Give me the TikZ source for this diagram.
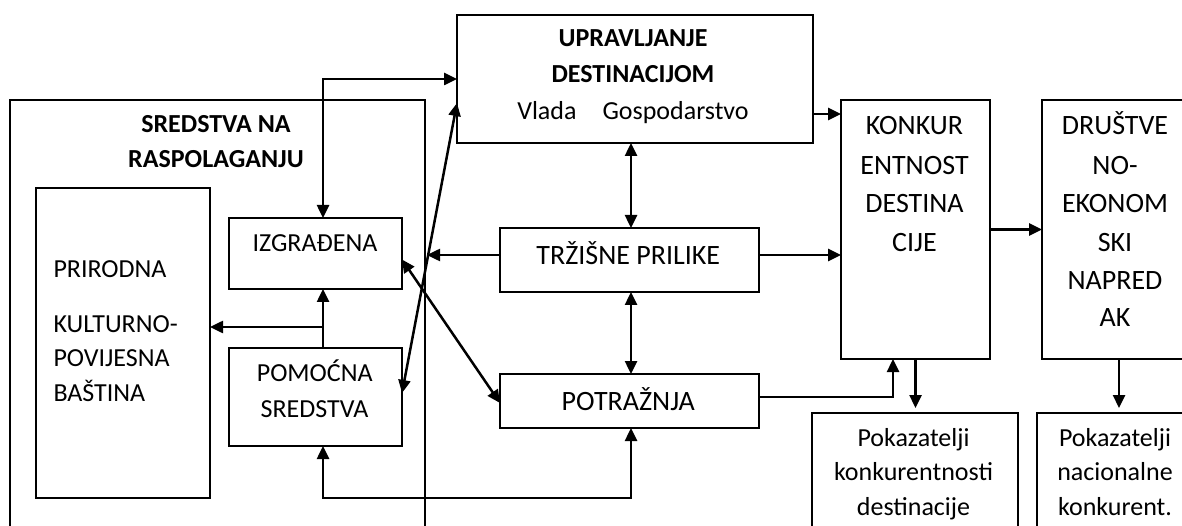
\documentclass[tikz,border=0pt]{standalone}
\usepackage{fontspec}
\setmainfont{Carlito}
\usetikzlibrary{arrows.meta,calc}
\begin{document}
\begin{tikzpicture}[x=1pt,y=-1pt,
  box/.style={draw,line width=1.5pt,inner sep=0pt,outer sep=0pt},
  conn/.style={line width=2.5pt,-{Triangle[length=13pt,width=12pt]}},
  biconn/.style={line width=2.5pt,{Triangle[length=13pt,width=12pt]}-{Triangle[length=13pt,width=12pt]}},
  txt/.style={font=\fontsize{26}{30}\selectfont,anchor=base,inner sep=0pt},
  txtl/.style={txt,anchor=base west},
  btxt/.style={font=\fontsize{26}{30}\selectfont\bfseries,anchor=base,inner sep=0pt},
  big/.style={font=\fontsize{28}{32}\selectfont,anchor=base,inner sep=0pt}]
\useasboundingbox (0,0) rectangle (1182,526);
\fill[white] (0,0) rectangle (1182,526);
\clip (0,0) rectangle (1182,526);
% boxes
\node[box,minimum width=415pt,minimum height=520pt] (sred) at (217.5,360) {};
\node[box,minimum width=174pt,minimum height=310pt] (prir) at (123,343) {};
\node[box,minimum width=173pt,minimum height=71pt] (izg) at (315.5,253.5) {};
\node[box,minimum width=173pt,minimum height=98pt] (pom) at (315.5,397) {};
\node[box,minimum width=356pt,minimum height=128pt] (upr) at (635,79) {};
\node[box,minimum width=259pt,minimum height=64pt] (trz) at (629.5,260) {};
\node[box,minimum width=259pt,minimum height=54pt] (pot) at (629.5,401) {};
\node[box,minimum width=149pt,minimum height=259pt] (kon) at (915.5,229.5) {};
\node[box,minimum width=146pt,minimum height=259pt] (dru) at (1115,229.5) {};
\node[box,minimum width=206pt,minimum height=187pt] (pk1) at (915,506.5) {};
\node[box,minimum width=156pt,minimum height=187pt] (pk2) at (1115,506.5) {};
% texts
\node[btxt] (s1) at (216,133) {SREDSTVA NA};
\node[btxt] (s2) at (216,168) {RASPOLAGANJU};
\node[txtl] (p1) at (53.3,278) {PRIRODNA};
\node[txtl] (p2) at (53.3,332.7) {KULTURNO-};
\node[txtl] (p3) at (53.3,366.7) {POVIJESNA};
\node[txtl] (p4) at (53.3,401.7) {BAŠTINA};
\node[txt] (i1) at (315,251.7) {IZGRAĐENA};
\node[txt] (m1) at (314.7,381.7) {POMOĆNA};
\node[txt] (m2) at (314.5,417) {SREDSTVA};
\node[btxt] (u1) at (633,46.7) {UPRAVLJANJE};
\node[btxt] (u2) at (633,82.3) {DESTINACIJOM};
\node[txt] (u3) at (633,119.3) {Vlada\quad Gospodarstvo};
\node[big] (t1) at (628.3,265) {TRŽIŠNE PRILIKE};
\node[big] (o1) at (628.3,410.7) {POTRAŽNJA};
\node[big] (k1) at (914.5,135) {KONKUR};
\node[big] (k2) at (914.5,174.3) {ENTNOST};
\node[big] (k3) at (914.5,212.7) {DESTINA};
\node[big] (k4) at (914.5,251.7) {CIJE};
\node[big] (d1) at (1115,135) {DRUŠTVE};
\node[big] (d2) at (1115,174.3) {NO-};
\node[big] (d3) at (1115,212.7) {EKONOM};
\node[big] (d4) at (1115,251.7) {SKI};
\node[big] (d5) at (1115,290) {NAPRED};
\node[big] (d6) at (1115,326.7) {AK};
\node[txt] (a1) at (913.5,446) {Pokazatelji};
\node[txt] (a2) at (913.5,480.5) {konkurentnosti};
\node[txt] (a3) at (913.5,515) {destinacije};
\node[txt] (b1) at (1115,446) {Pokazatelji};
\node[txt] (b2) at (1115,480.5) {nacionalne};
\node[txt] (b3) at (1115,515) {konkurent.};
% helper coordinates
\coordinate (cx) at (323,0);
\coordinate (cm) at (631,0);
\coordinate (ck) at (893,0);
\coordinate (cd) at (1119,0);
\coordinate (brn) at (0,327);
\coordinate (bot) at (0,498);
\coordinate (hit) at (427,255);
% connectors
\draw[conn] (cx |- pom.north) -- (cx |- izg.south);
\draw[conn] (cx |- brn) -- (prir.east |- brn);
\draw[biconn] (cx |- izg.north) |- (upr.west);
\draw[biconn] ([yshift=4pt]pom.east) -- ([yshift=40pt]upr.south west);
\draw[conn] ([yshift=5pt]trz.west) -- (hit);
\draw[conn] ([yshift=5pt]trz.east) -- ([yshift=5pt]trz.east -| kon.west);
\draw[biconn] (cm |- upr.south) -- (cm |- trz.north);
\draw[biconn] (cm |- trz.south) -- (cm |- pot.north);
\draw[biconn] ([yshift=-6pt]izg.east) -- ([yshift=-2pt]pot.west);
\draw[biconn] (cx |- pom.south) -- (cx |- bot) -| (cm |- pot.south);
\draw[conn] ([yshift=4pt]pot.east) -| (ck |- kon.south);
\draw[conn] ([yshift=-35pt]upr.east) -- ([yshift=-35pt]upr.east -| kon.west);
\draw[conn] (kon.east) -- (dru.west);
\draw[conn,shorten >=5pt] (kon.south) -- (kon.south |- pk1.north);
\draw[conn,shorten >=5pt] (cd |- dru.south) -- (cd |- pk2.north);
\end{tikzpicture}
\end{document}
